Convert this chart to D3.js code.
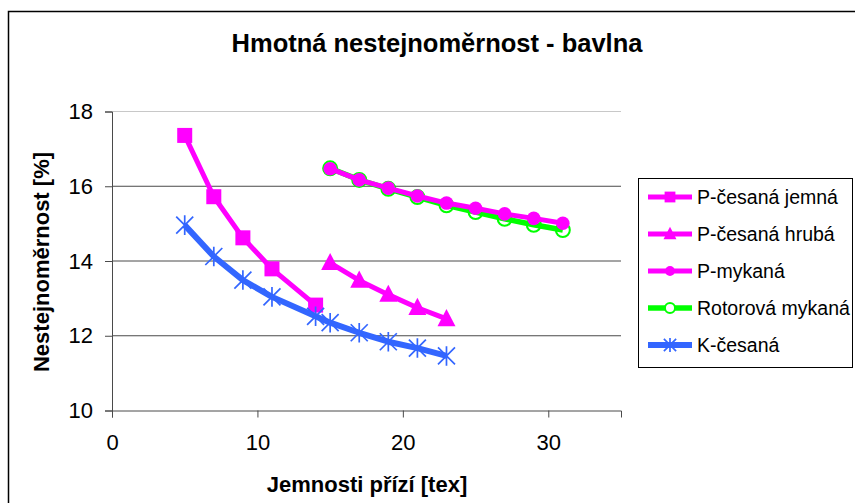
<!DOCTYPE html>
<html>
<head>
<meta charset="utf-8">
<script src="https://cdn.jsdelivr.net/npm/d3@7"></script>
<style>
  body { margin: 0; background: #fff; }
  text { font-family: Arial, "Liberation Sans", sans-serif; }
</style>
</head>
<body>
<div id="chart-container"></div>
<script>
// Data

const xCesJemna = [5, 7, 9, 11, 14];
const yCesJemna = [17.36, 15.72, 14.62, 13.79, 12.82];

const xCesHruba = [15, 17, 19, 21, 23];
const yCesHruba = [13.95, 13.48, 13.1, 12.75, 12.45];

const xMykana = [15, 17, 19, 21, 23, 25, 27, 29, 31];
const yMykana = [16.47, 16.17, 15.95, 15.74, 15.55, 15.41, 15.26, 15.14, 15.01];

const xRotor = [15, 17, 19, 21, 23, 25, 27, 29, 31];
const yRotor = [16.48, 16.17, 15.93, 15.71, 15.49, 15.31, 15.13, 14.97, 14.83];

const xKCes = [5, 7, 9, 11, 14, 15, 17, 19, 21, 23];
const yKCes = [14.96, 14.12, 13.49, 13.04, 12.52, 12.35, 12.08, 11.84, 11.67, 11.46];

const xTicks = [0, 10, 20, 30];
const yTicks = [10, 12, 14, 16, 18];

const seriesNames = ["P-česaná jemná", "P-česaná hrubá", "P-mykaná", "Rotorová mykaná", "K-česaná"];

// Chart size and plot area
const W = 855, H = 503;
const plot = { left: 112, right: 621, top: 111.5, bottom: 410.5 };

const x = d3.scaleLinear().domain([0, 35]).range([plot.left, plot.right]);
const y = d3.scaleLinear().domain([10, 18]).range([plot.bottom, plot.top]);

const svg = d3.select("#chart-container")
    .append("svg")
        .attr("width", W)
        .attr("height", H);

// outer chart border (runs off the right and bottom edge)
svg.append("rect")
    .attr("x", 8.5)
    .attr("y", 11.5)
    .attr("width", 870)
    .attr("height", 520)
    .attr("fill", "#fff")
    .attr("stroke", "#000")
    .attr("stroke-width", 1.5);

// title
svg.append("text")
    .attr("x", 437)
    .attr("y", 52)
    .attr("text-anchor", "middle")
    .style("font-size", "25.5px")
    .style("font-weight", "bold")
    .text("Hmotná nestejnoměrnost - bavlna");

// horizontal grid lines
svg.append("g")
    .selectAll("line")
    .data(yTicks.slice(1))
    .join("line")
    .attr("x1", plot.left)
    .attr("x2", plot.right)
    .attr("y1", d => y(d))
    .attr("y2", d => y(d))
    .attr("stroke", d => d === 18 ? "#c8c8c8" : "#4a4a4a")
    .attr("stroke-width", 1);

// axes
const xAxis = svg.append("g")
    .attr("transform", `translate(0,${plot.bottom})`)
    .call(d3.axisBottom(x).tickValues(xTicks).tickSize(7).tickPadding(17).tickFormat(d3.format("d")));

const yAxis = svg.append("g")
    .attr("transform", `translate(${plot.left},0)`)
    .call(d3.axisLeft(y).tickValues(yTicks).tickSize(7).tickPadding(12).tickFormat(d3.format("d")));

[xAxis, yAxis].forEach(a => {
    a.select(".domain").attr("stroke", "#4a4a4a");
    a.selectAll(".tick line").attr("stroke", "#4a4a4a");
    a.selectAll(".tick text")
        .style("font-size", "22px")
        .style("font-family", "Arial, 'Liberation Sans', sans-serif")
        .attr("fill", "#000");
});

// axis titles
svg.append("text")
    .attr("x", 367)
    .attr("y", 492)
    .attr("text-anchor", "middle")
    .style("font-size", "22px")
    .style("font-weight", "bold")
    .text("Jemnosti přízí [tex]");

svg.append("text")
    .attr("transform", "translate(49,262) rotate(-90)")
    .attr("text-anchor", "middle")
    .style("font-size", "22px")
    .style("font-weight", "bold")
    .text("Nestejnoměrnost [%]");

// series
const series = [
    { name: seriesNames[0], xs: xCesJemna, ys: yCesJemna, color: "#ff00ff", width: 5, marker: "square" },
    { name: seriesNames[1], xs: xCesHruba, ys: yCesHruba, color: "#ff00ff", width: 5, marker: "triangle" },
    { name: seriesNames[3], xs: xRotor, ys: yRotor, color: "#00ff00", width: 5.5, marker: "open" },
    { name: seriesNames[2], xs: xMykana, ys: yMykana, color: "#ff00ff", width: 5, marker: "circle" },
    { name: seriesNames[4], xs: xKCes, ys: yKCes, color: "#3366ff", width: 6, marker: "star" }
];

const line = d3.line()
    .x(d => x(d[0]))
    .y(d => y(d[1]));

function drawMarker(g, type, color, scale = 1) {
    if (type === "square") {
        g.append("rect").attr("x", -7.5 * scale).attr("y", -7.5 * scale)
            .attr("width", 15 * scale).attr("height", 15 * scale).attr("fill", color);
    } else if (type === "triangle") {
        const s = 9 * scale;
        g.append("path").attr("d", `M0,${-s * 1.1}L${s},${s * 0.8}L${-s},${s * 0.8}Z`).attr("fill", color);
    } else if (type === "circle") {
        g.append("circle").attr("r", 6.8 * scale).attr("fill", color);
    } else if (type === "open") {
        g.append("circle").attr("r", 7 * scale).attr("fill", scale < 1 ? "#fff" : "none")
            .attr("stroke", color).attr("stroke-width", 2);
    } else if (type === "star") {
        const r = 8.5 * scale;
        const path = `M${-r},${-r}L${r},${r}M${-r},${r}L${r},${-r}M0,${-r * 1.15}L0,${r * 1.15}`;
        g.append("path").attr("d", path).attr("stroke", color).attr("stroke-width", 1.7).attr("fill", "none");
    }
}

series.forEach(s => {
    const pts = s.xs.map((v, i) => [v, s.ys[i]]);
    const g = svg.append("g");
    g.append("path")
        .attr("d", line(pts))
        .attr("fill", "none")
        .attr("stroke", s.color)
        .attr("stroke-width", s.width)
        .attr("stroke-linejoin", "round");
    g.selectAll("g.mk")
        .data(pts)
        .join("g")
        .attr("class", "mk")
        .attr("transform", d => `translate(${x(d[0])},${y(d[1])})`)
        .each(function () { drawMarker(d3.select(this), s.marker, s.color); });
});

// legend
const legend = svg.append("g");
legend.append("rect")
    .attr("x", 638.5)
    .attr("y", 178.5)
    .attr("width", 214)
    .attr("height", 189)
    .attr("fill", "#fff")
    .attr("stroke", "#000")
    .attr("stroke-width", 1);

const legendItems = [series[0], series[1], series[3], series[2], series[4]];
legendItems.forEach((s, i) => {
    const ly = 197 + i * 37;
    const g = legend.append("g");
    g.append("line")
        .attr("x1", 648).attr("x2", 692)
        .attr("y1", ly).attr("y2", ly)
        .attr("stroke", s.color)
        .attr("stroke-width", s.width);
    const m = g.append("g").attr("transform", `translate(670,${ly})`);
    drawMarker(m, s.marker, s.color, 0.72);
    g.append("text")
        .attr("x", 697)
        .attr("y", ly + 7)
        .style("font-size", "19.5px")
        .text(s.name);
});
</script>
</body>
</html>
